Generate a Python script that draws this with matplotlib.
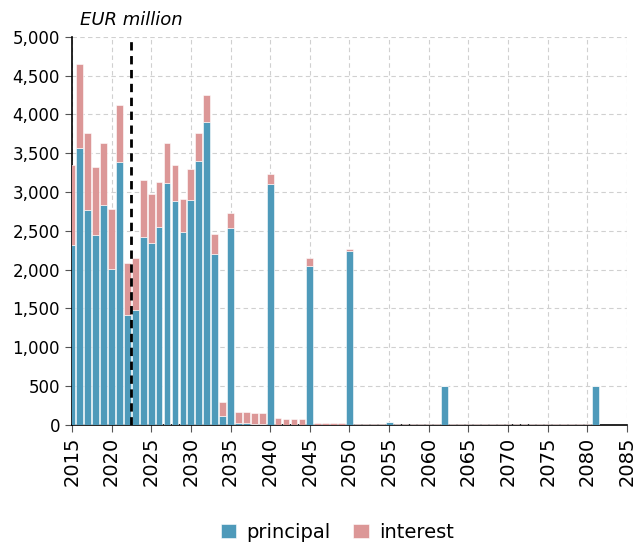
import numpy as np
import matplotlib.pyplot as plt

# Data (EUR million)
years = np.arange(2015, 2082)
principal_head = [2320, 3570, 2770, 2450, 2835, 2010, 3390, 1420, 1480, 2420,
                  2350, 2555, 3120, 2890, 2480, 2900, 3405, 3900, 2200, 110,
                  2540, 20, 20, 15, 15, 3105, 0, 0, 0, 0,
                  2050, 0, 0, 0, 0, 2240, 0, 0, 0, 0, 30]
interest_head = [1030, 1080, 990, 875, 800, 775, 730, 660, 670, 730,
                 625, 575, 510, 460, 430, 400, 355, 355, 265, 190,
                 190, 140, 140, 135, 135, 130, 90, 80, 80, 80,
                 100, 20, 20, 20, 20, 30, 10, 10, 10, 10, 0]
n_tail = len(years) - len(principal_head)
principal = np.array(principal_head + [0] * n_tail, dtype=float)
interest = np.array(interest_head + [8] * n_tail, dtype=float)
principal[years == 2062] = 500
principal[years == 2081] = 500
interest[years == 2062] = 0
interest[years == 2081] = 0

cutoff_year = 2022.5
blue = "#4e9aba"
pink = "#dc9797"

plt.rcParams['font.family'] = ['DejaVu Sans']

fig = plt.figure(figsize=(6.36, 5.51), dpi=100)
ax = fig.add_axes([0.113, 0.229, 0.873, 0.704])

ax.bar(years, principal, width=0.85, color=blue, edgecolor="white", linewidth=0.4,
       label="principal", zorder=3)
ax.bar(years, interest, bottom=principal, width=0.85, color=pink, edgecolor="white",
       linewidth=0.4, label="interest", zorder=3)

ax.axvline(cutoff_year, color="black", linestyle=(0, (3, 2)), linewidth=2, zorder=4)

ax.set_xlim(2015, 2085)
ax.set_ylim(0, 5000)
ax.set_xticks(np.arange(2015, 2086, 5))
ax.set_yticks(np.arange(0, 5001, 500))
ax.set_yticklabels(["{:,}".format(v) for v in range(0, 5001, 500)], fontsize=12)
ax.tick_params(axis="x", labelrotation=90, labelsize=14, length=5, color="#555555")
ax.tick_params(axis="y", length=5, color="#555555")

ax.grid(True, linestyle=(0, (4, 3)), color="#d0d0d0", linewidth=0.8, zorder=0)
ax.spines["top"].set_visible(False)
ax.spines["right"].set_visible(False)
ax.spines["left"].set_linewidth(1.2)
ax.spines["bottom"].set_linewidth(1.2)

ax.text(0.015, 1.02, "EUR million", transform=ax.transAxes, fontsize=13,
        style="italic", ha="left", va="bottom")

fig.legend(loc="lower center", bbox_to_anchor=(0.53, -0.015), ncol=2, frameon=False,
           fontsize=14, handlelength=0.8, handleheight=0.8, columnspacing=1.2,
           handletextpad=0.5)

fig.savefig("out.png", dpi=100)
